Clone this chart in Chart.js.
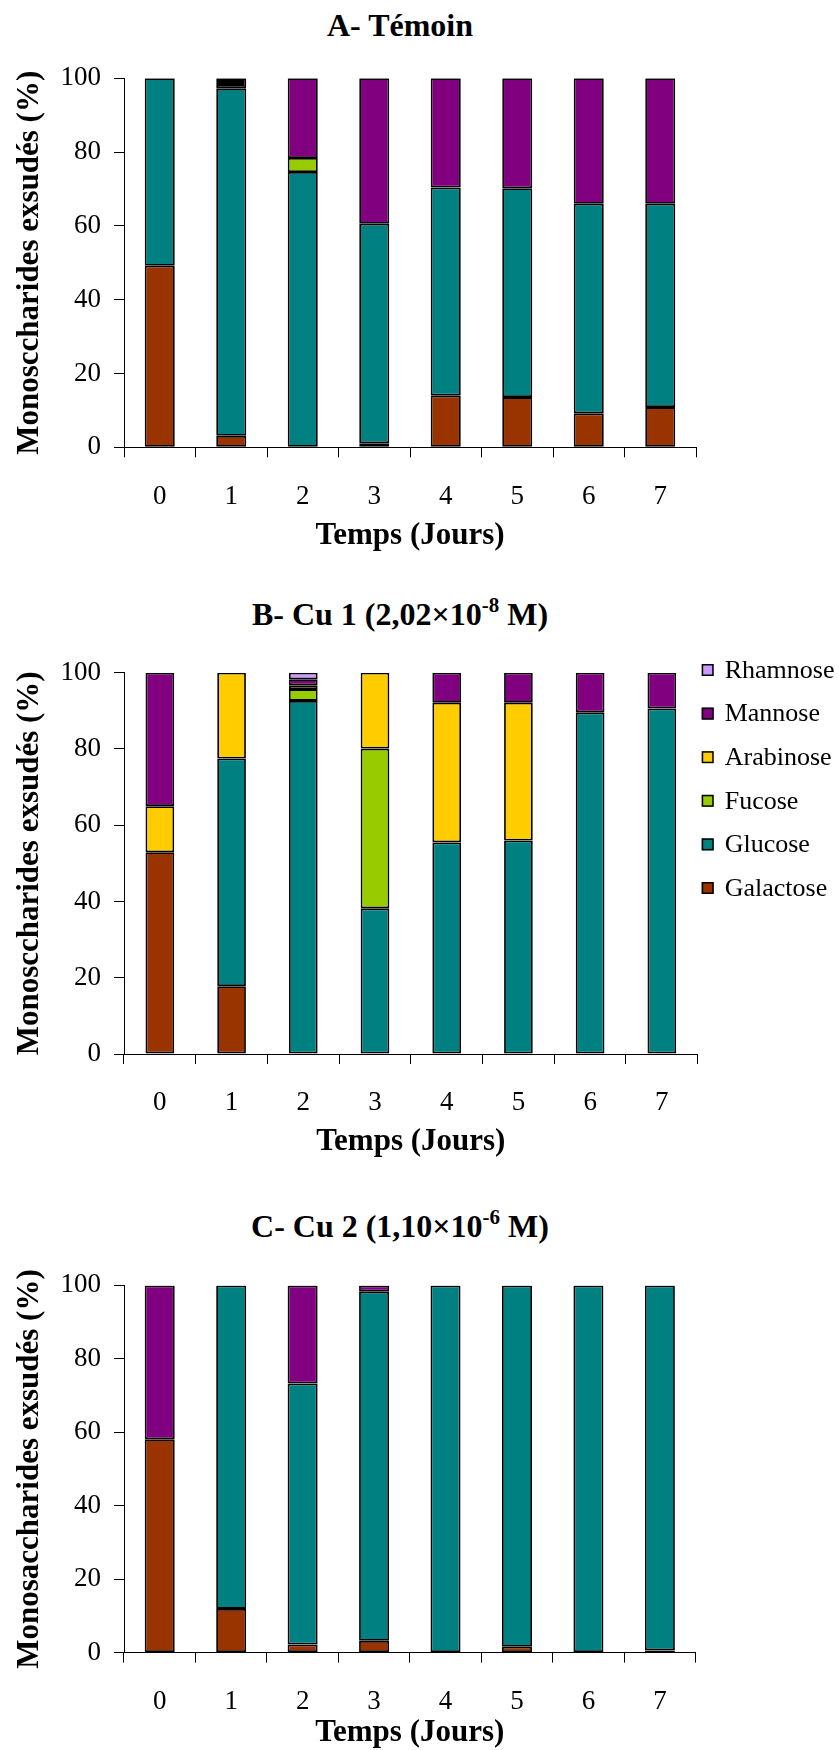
<!DOCTYPE html>
<html lang="fr">
<head>
<meta charset="utf-8">
<script src="https://cdn.jsdelivr.net/npm/chart.js@4/dist/chart.umd.min.js"></script>
<style>
  html, body { margin: 0; padding: 0; background: #fff; }
  body { position: relative; width: 839px; height: 1750px; overflow: hidden;
         font-family: 'Liberation Serif', 'Times New Roman', serif; color: #000; }
  .titre { position: absolute; left: 0; width: 800px; text-align: center; font-weight: bold;
           font-size: 32px; line-height: 32px; white-space: nowrap; }
  .titre sup { font-size: 21px; line-height: 0; vertical-align: baseline; position: relative; top: -13px; }
  canvas { position: absolute; left: 0; }
</style>
</head>
<body>
<div class="titre" style="top:9px">A- Témoin</div>
<canvas id="chartA" width="839" height="520" style="top:40px"></canvas>

<div class="titre" style="top:598px">B- Cu 1 (2,02×10<sup>-8</sup> M)</div>
<canvas id="chartB" width="839" height="526" style="top:640px"></canvas>

<div class="titre" style="top:1210px">C- Cu 2 (1,10×10<sup>-6</sup> M)</div>
<canvas id="chartC" width="839" height="502" style="top:1250px"></canvas>

<script>
const jours = ['0', '1', '2', '3', '4', '5', '6', '7'];

const couleurs = {
  Galactose: '#993300',
  Glucose: '#008080',
  Fucose: '#99CC00',
  Arabinose: '#FFCC00',
  Mannose: '#800080',
  Rhamnose: '#CC99FF',
  Autre: '#000000',
};

// A- Témoin
const galactoseA = [49.2, 3.1, null, 1.1, 14.0, 13.6, 9.2, 10.9];
const glucoseA   = [50.8, 94.2, 74.6, 59.5, 56.4, 56.6, 56.8, 55.1];
const fucoseA    = [null, null, 3.8, null, null, null, null, null];
const mannoseA   = [null, null, 21.6, 39.4, 29.6, 29.8, 34.0, 34.0];
const autreA     = [null, 2.7, null, null, null, null, null, null];

// B- Cu 1
const galactoseB = [52.9, 17.8, null, null, null, null, null, null];
const glucoseB   = [null, 59.7, 92.6, 38.2, 55.5, 56.0, 89.6, 90.6];
const fucoseB    = [null, null, 3.1, 41.9, null, null, null, null];
const arabinoseB = [12.1, 22.5, 1.0, 19.9, 36.6, 36.1, null, null];
const mannoseB   = [35.0, null, 1.6, null, 7.9, 7.9, 10.4, 9.4];
const rhamnoseB  = [null, null, 1.7, null, null, null, null, null];

// C- Cu 2
const galactoseC = [58.1, 11.9, 2.2, 3.2, null, 1.6, null, 0.6];
const glucoseC   = [null, 88.1, 71.1, 95.1, 100, 98.4, 100, 99.4];
const mannoseC   = [41.9, null, 26.7, 1.7, null, null, null, null];

const yTicks = { min: 0, max: 100, step: 20 };
const serif = "'Liberation Serif', 'Times New Roman', serif";

// Excel-like legend to the right of the plot: top entry = top of the stack
const legendeDroite = {
  id: 'legendeDroite',
  afterDraw(chart) {
    const { ctx, chartArea } = chart;
    const items = chart.data.datasets.slice().reverse();
    ctx.save();
    ctx.font = `26px ${serif}`;
    ctx.textBaseline = 'middle';
    ctx.textAlign = 'left';
    ctx.lineWidth = 1.5;
    ctx.strokeStyle = '#000';
    items.forEach((ds, i) => {
      const x = chartArea.right + 4;
      const y = chartArea.top - 2.7 + i * 43.6;
      ctx.fillStyle = ds.backgroundColor;
      ctx.fillRect(x, y - 6, 12, 12);
      ctx.strokeRect(x + 0.75, y - 5.25, 10.5, 10.5);
      ctx.fillStyle = '#000';
      ctx.fillText(ds.label, x + 23, y + 1);
    });
    ctx.restore();
  },
};

function makeChart(id, series, cfg) {
  const ctx = document.getElementById(id).getContext('2d');
  return new Chart(ctx, {
    type: 'bar',
    data: {
      labels: jours,
      datasets: series.map(([label, data]) => ({
        label,
        data,
        backgroundColor: couleurs[label],
        borderColor: '#000',
        borderWidth: 1.8,
        borderSkipped: false,
        barPercentage: cfg.barPct,
        categoryPercentage: 1,
      })),
    },
    plugins: cfg.legend ? [legendeDroite] : [],
    options: {
      responsive: false,
      animation: false,
      layout: { padding: { top: cfg.top, right: cfg.right, left: 0, bottom: 0 } },
      plugins: { legend: { display: false }, tooltip: { enabled: false } },
      scales: {
        x: {
          stacked: true,
          grid: { offset: true, drawOnChartArea: false, drawTicks: true, tickLength: 10, color: '#000' },
          border: { color: '#000', width: 1 },
          ticks: { color: '#000', font: { family: serif, size: 27 }, padding: 23, maxRotation: 0 },
          title: {
            display: true, text: 'Temps (Jours)', color: '#000',
            font: { family: serif, size: 31, weight: 'bold' },
            padding: { top: 0, bottom: cfg.xTitleBottom },
          },
          afterFit: s => { s.height = cfg.xHeight; },
        },
        y: {
          stacked: true,
          min: yTicks.min,
          max: yTicks.max,
          ticks: { stepSize: yTicks.step, color: '#000', font: { family: serif, size: 27 }, padding: 13 },
          grid: { drawOnChartArea: false, drawTicks: true, tickLength: 10, color: '#000' },
          border: { color: '#000', width: 1 },
          title: {
            display: true, text: cfg.yTitle, color: '#000',
            font: { family: serif, size: 31, weight: 'bold' },
            padding: { top: 11, bottom: 0 },
          },
          afterFit: s => { s.width = 124; },
        },
      },
    },
  });
}

makeChart('chartA', [
  ['Galactose', galactoseA],
  ['Glucose', glucoseA],
  ['Fucose', fucoseA],
  ['Mannose', mannoseA],
  ['Autre', autreA],
], { top: 38.3, right: 143, xHeight: 112.7, xTitleBottom: 5.4, barPct: 0.42,
     yTitle: 'Monosccharides exsudés (%)' });

makeChart('chartB', [
  ['Galactose', galactoseB],
  ['Glucose', glucoseB],
  ['Fucose', fucoseB],
  ['Arabinose', arabinoseB],
  ['Mannose', mannoseB],
  ['Rhamnose', rhamnoseB],
], { top: 32.7, right: 141.3, xHeight: 112, xTitleBottom: 5.1, barPct: 0.40, legend: true,
     yTitle: 'Monosccharides exsudés (%)' });

makeChart('chartC', [
  ['Galactose', galactoseC],
  ['Glucose', glucoseC],
  ['Mannose', mannoseC],
], { top: 35.4, right: 143.4, xHeight: 99.4, xTitleBottom: 0, barPct: 0.42,
     yTitle: 'Monosaccharides exsudés (%)' });
</script>
</body>
</html>
